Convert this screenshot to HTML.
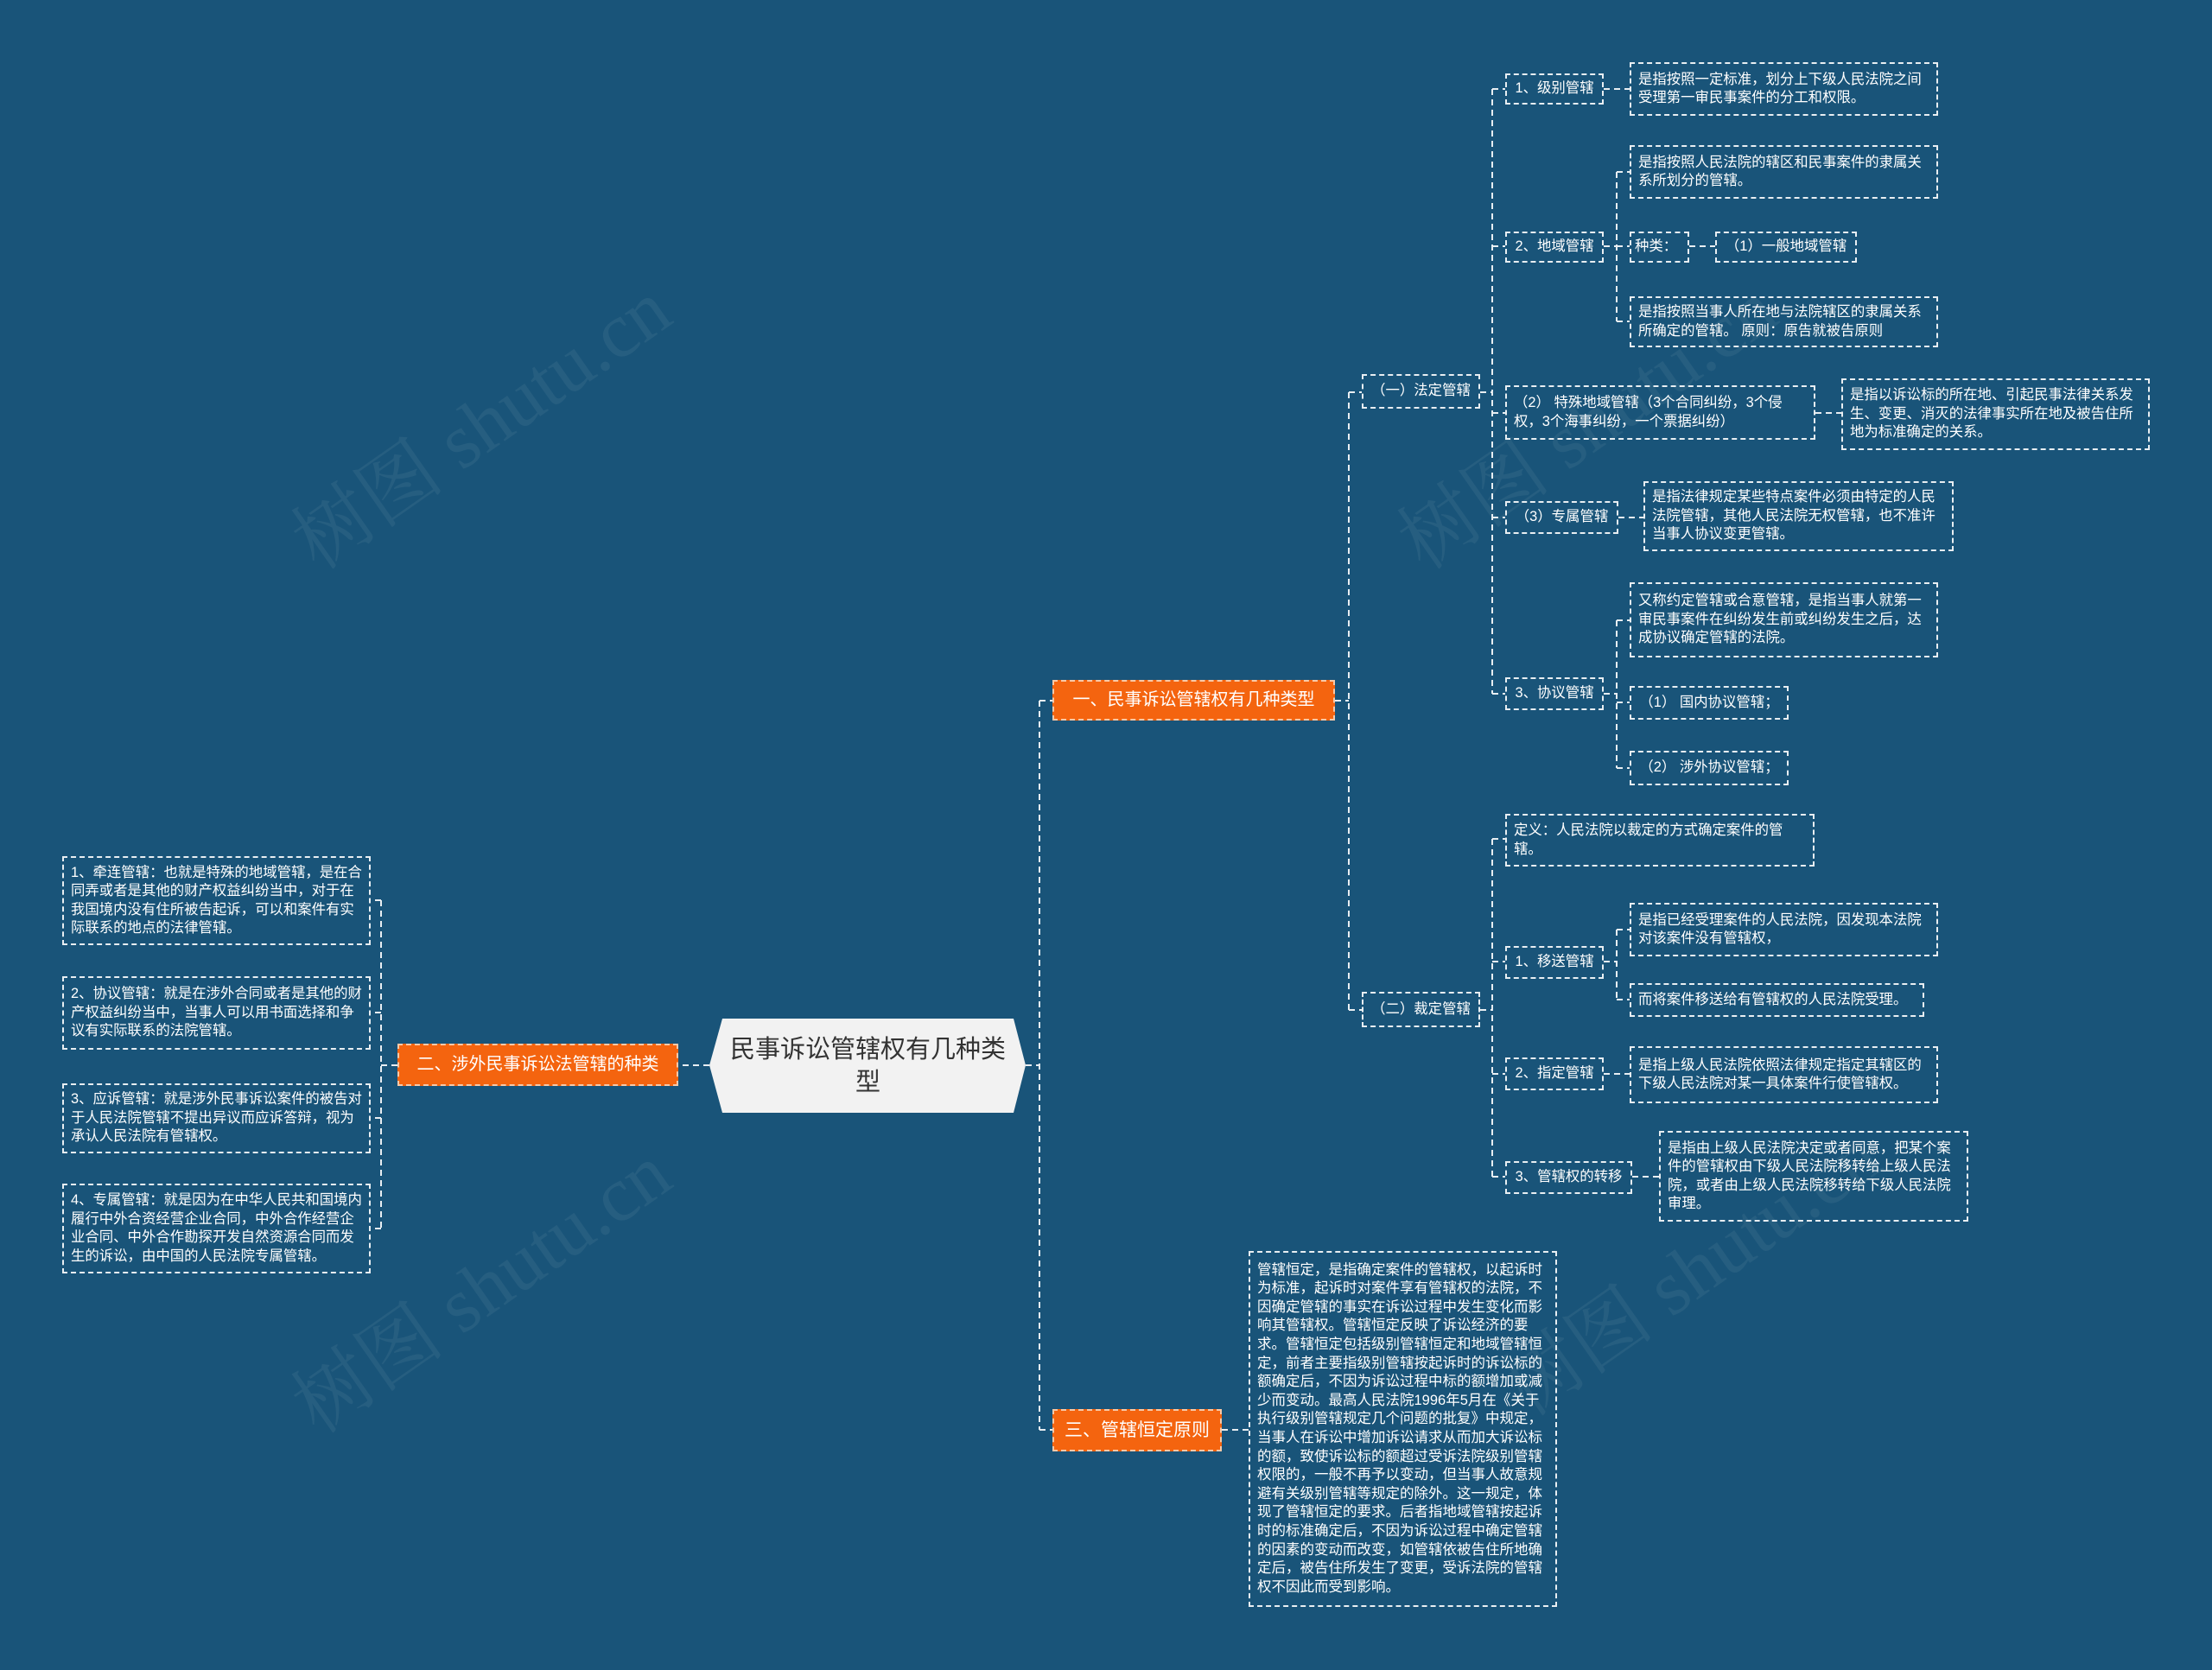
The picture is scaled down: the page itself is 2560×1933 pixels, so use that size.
<!DOCTYPE html>
<html><head><meta charset="utf-8"><style>
body{margin:0;}
#c{position:relative;width:2560px;height:1933px;background:#195479;overflow:hidden;font-family:"Liberation Sans","Noto Sans CJK SC",sans-serif;color:#fff;}
.n{position:absolute;box-sizing:border-box;border:2px dashed #e8eef2;display:flex;align-items:center;padding:0 8px;font-size:16.4px;line-height:21.5px;}
.s{white-space:nowrap;padding:0 4px;justify-content:center;}
.o{background:#f4640f;border:2px dashed #f8c9a8;font-size:20px;justify-content:center;white-space:nowrap;}
.wm{position:absolute;font-size:90px;color:rgba(255,255,255,0.06);transform:rotate(-35deg);white-space:nowrap;font-family:"Liberation Serif","Noto Serif CJK SC",serif;}
svg{position:absolute;left:0;top:0;}
</style></head><body><div id="c">
<div class="wm" style="left:300px;top:420px;">树图 shutu.cn</div>
<div class="wm" style="left:300px;top:1420px;">树图 shutu.cn</div>
<div class="wm" style="left:1580px;top:420px;">树图 shutu.cn</div>
<div class="wm" style="left:1700px;top:1400px;">树图 shutu.cn</div>
<svg width="2560" height="1933" fill="none" stroke="#e8eef2" stroke-width="2" stroke-dasharray="7,5">
<path d="M1187 1233H1203M1203 811V1655M1203 811H1218M1203 1655H1218"/>
<path d="M821 1233H785"/>
<path d="M460 1233H441M441 1042V1422M441 1042H429M441 1172H429M441 1294H429M441 1422H429"/>
<path d="M1545 811H1561M1561 454V1169M1561 454H1576M1561 1169H1576"/>
<path d="M1713 454H1727M1727 103V803M1727 103H1742M1727 285H1742M1727 478H1742M1727 599H1742M1727 803H1742"/>
<path d="M1713 1169H1727M1727 971V1362M1727 971H1742M1727 1113H1742M1727 1243H1742M1727 1362H1742"/>
<path d="M1856 103H1886"/>
<path d="M1856 285H1871M1871 199V372M1871 199H1886M1871 285H1886M1871 372H1886M1955 285H1985"/>
<path d="M2101 478H2131M1873 599H1902"/>
<path d="M1856 803H1871M1871 718V889M1871 718H1886M1871 813H1886M1871 889H1886"/>
<path d="M1856 1113H1871M1871 1076V1157M1871 1076H1886M1871 1157H1886"/>
<path d="M1856 1243H1886M1889 1362H1920"/>
<path d="M1414 1655H1445"/>
</svg>
<svg width="2560" height="1933"><polygon points="836,1179 1173,1179 1187,1233 1173,1288 836,1288 821,1233" fill="#f2f2f2"/></svg>
<div style="position:absolute;left:836px;top:1179px;width:337px;height:109px;display:flex;align-items:center;justify-content:center;text-align:center;color:#333;font-size:29px;line-height:38px;">民事诉讼管辖权有几种类<br>型</div>

<div class="n o" style="left:1218px;top:787px;width:327px;height:47px;">一、民事诉讼管辖权有几种类型</div>
<div class="n o" style="left:460px;top:1208px;width:325px;height:49px;">二、涉外民事诉讼法管辖的种类</div>
<div class="n o" style="left:1218px;top:1631px;width:196px;height:49px;font-size:21px;">三、管辖恒定原则</div>

<div class="n s" style="left:1576px;top:433px;width:137px;height:40px;">（一）法定管辖</div>
<div class="n s" style="left:1576px;top:1148px;width:137px;height:41px;">（二）裁定管辖</div>

<div class="n s" style="left:1742px;top:85px;width:114px;height:36px;">1、级别管辖</div>
<div class="n" style="left:1886px;top:72px;width:357px;height:62px;">是指按照一定标准，划分上下级人民法院之间受理第一审民事案件的分工和权限。</div>
<div class="n s" style="left:1742px;top:268px;width:114px;height:36px;">2、地域管辖</div>
<div class="n" style="left:1886px;top:168px;width:357px;height:62px;">是指按照人民法院的辖区和民事案件的隶属关系所划分的管辖。</div>
<div class="n s" style="left:1886px;top:268px;width:69px;height:36px;justify-content:flex-start;">种类：</div>
<div class="n s" style="left:1985px;top:268px;width:164px;height:36px;">（1）一般地域管辖</div>
<div class="n" style="left:1886px;top:343px;width:357px;height:59px;">是指按照当事人所在地与法院辖区的隶属关系所确定的管辖。 原则：原告就被告原则</div>
<div class="n" style="left:1742px;top:446px;width:359px;height:63px;">（2） 特殊地域管辖（3个合同纠纷，3个侵权，3个海事纠纷，一个票据纠纷）</div>
<div class="n" style="left:2131px;top:438px;width:357px;height:83px;">是指以诉讼标的所在地、引起民事法律关系发生、变更、消灭的法律事实所在地及被告住所地为标准确定的关系。</div>
<div class="n s" style="left:1742px;top:580px;width:131px;height:38px;">（3）专属管辖</div>
<div class="n" style="left:1902px;top:557px;width:359px;height:81px;">是指法律规定某些特点案件必须由特定的人民法院管辖，其他人民法院无权管辖，也不准许当事人协议变更管辖。</div>
<div class="n s" style="left:1742px;top:784px;width:114px;height:38px;">3、协议管辖</div>
<div class="n" style="left:1886px;top:674px;width:357px;height:87px;">又称约定管辖或合意管辖，是指当事人就第一审民事案件在纠纷发生前或纠纷发生之后，达成协议确定管辖的法院。</div>
<div class="n s" style="left:1886px;top:794px;width:184px;height:39px;">（1） 国内协议管辖；</div>
<div class="n s" style="left:1886px;top:869px;width:184px;height:40px;">（2） 涉外协议管辖；</div>

<div class="n" style="left:1742px;top:942px;width:358px;height:61px;">定义：人民法院以裁定的方式确定案件的管辖。</div>
<div class="n s" style="left:1742px;top:1095px;width:114px;height:38px;">1、移送管辖</div>
<div class="n" style="left:1886px;top:1045px;width:357px;height:62px;">是指已经受理案件的人民法院，因发现本法院对该案件没有管辖权，</div>
<div class="n" style="left:1886px;top:1138px;width:341px;height:39px;white-space:nowrap;">而将案件移送给有管辖权的人民法院受理。</div>
<div class="n s" style="left:1742px;top:1224px;width:114px;height:38px;">2、指定管辖</div>
<div class="n" style="left:1886px;top:1211px;width:357px;height:66px;">是指上级人民法院依照法律规定指定其辖区的下级人民法院对某一具体案件行使管辖权。</div>
<div class="n s" style="left:1742px;top:1344px;width:147px;height:38px;">3、管辖权的转移</div>
<div class="n" style="left:1920px;top:1309px;width:358px;height:105px;">是指由上级人民法院决定或者同意，把某个案件的管辖权由下级人民法院移转给上级人民法院，或者由上级人民法院移转给下级人民法院审理。</div>

<div class="n" style="left:72px;top:991px;width:357px;height:103px;">1、牵连管辖：也就是特殊的地域管辖，是在合同弄或者是其他的财产权益纠纷当中，对于在我国境内没有住所被告起诉，可以和案件有实际联系的地点的法律管辖。</div>
<div class="n" style="left:72px;top:1130px;width:357px;height:85px;">2、协议管辖：就是在涉外合同或者是其他的财产权益纠纷当中，当事人可以用书面选择和争议有实际联系的法院管辖。</div>
<div class="n" style="left:72px;top:1254px;width:357px;height:81px;">3、应诉管辖：就是涉外民事诉讼案件的被告对于人民法院管辖不提出异议而应诉答辩，视为承认人民法院有管辖权。</div>
<div class="n" style="left:72px;top:1370px;width:357px;height:104px;">4、专属管辖：就是因为在中华人民共和国境内履行中外合资经营企业合同，中外合作经营企业合同、中外合作勘探开发自然资源合同而发生的诉讼，由中国的人民法院专属管辖。</div>

<div class="n" style="left:1445px;top:1448px;width:357px;height:412px;font-size:16.5px;line-height:21.6px;padding:0 8px;">管辖恒定，是指确定案件的管辖权，以起诉时为标准，起诉时对案件享有管辖权的法院，不因确定管辖的事实在诉讼过程中发生变化而影响其管辖权。管辖恒定反映了诉讼经济的要求。管辖恒定包括级别管辖恒定和地域管辖恒定，前者主要指级别管辖按起诉时的诉讼标的额确定后，不因为诉讼过程中标的额增加或减少而变动。最高人民法院1996年5月在《关于执行级别管辖规定几个问题的批复》中规定，当事人在诉讼中增加诉讼请求从而加大诉讼标的额，致使诉讼标的额超过受诉法院级别管辖权限的，一般不再予以变动，但当事人故意规避有关级别管辖等规定的除外。这一规定，体现了管辖恒定的要求。后者指地域管辖按起诉时的标准确定后，不因为诉讼过程中确定管辖的因素的变动而改变，如管辖依被告住所地确定后，被告住所发生了变更，受诉法院的管辖权不因此而受到影响。</div>
</div></body></html>
